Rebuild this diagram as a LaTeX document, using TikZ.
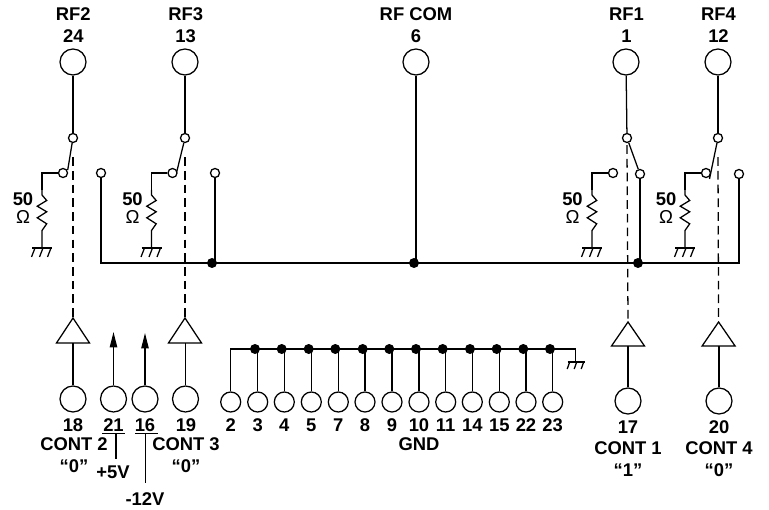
\documentclass[tikz,border=0pt]{standalone}
\usepackage{fontspec}
\setmainfont{Liberation Sans}
\usetikzlibrary{arrows.meta,calc}
\tikzset{
  wire/.style={draw=black,line width=0.95pt},
  ctrl/.style={draw=black,line width=0.95pt,dash pattern=on 6.5pt off 3.8pt},
  port/.style={circle,draw=black,line width=0.95pt,fill=white,inner sep=0pt,minimum size=19.5pt},
  gpin/.style={circle,draw=black,line width=0.95pt,fill=white,inner sep=0pt,minimum size=15pt},
  contact/.style={circle,draw=black,line width=0.95pt,fill=white,inner sep=0pt,minimum size=6.8pt},
  junction/.style={circle,fill=black,inner sep=0pt,minimum size=7.5pt},
  lbl/.style={inner sep=0pt,font=\fontsize{13.8pt}{14pt}\selectfont\bfseries,text height=9.9pt,text depth=0pt},
  ohm/.style={inner sep=0pt,font=\fontsize{14pt}{15pt}\selectfont,text height=9.9pt,text depth=0pt},
  buffer/.style={draw=black,line width=0.95pt,fill=white,line join=miter},
  lift/.style={-{Triangle[length=11.5pt,width=5.5pt]},line width=0.95pt}
}
% resistor and ground hanging from a named coordinate at the resistor top
\newcommand{\resgnd}[1]{%
  \draw[wire] (#1) -- ++(0,5) -- ++(4.7,5.5) -- ++(-9.4,5.7) -- ++(9.4,5.6) -- ++(-9.4,6) -- ++(9.4,6) -- ++(-4.7,6.7) -- ++(0,17.5) coordinate (#1g);
  \draw[wire] ($(#1g)+(-10,0)$) -- ($(#1g)+(10,0)$);
  \foreach \d in {-8,0,8}{\draw[wire] ($(#1g)+(\d+1,0)$) -- ($(#1g)+(\d-2.5,9)$);}
}
\begin{document}
\begin{tikzpicture}[x=0.75pt,y=-0.75pt]
\useasboundingbox (0,0) rectangle (769,510);
% top labels
\foreach \x/\a/\b in {73.3/RF2/24,185.7/RF3/13,416/RF COM/6,626.5/RF1/1,718.5/RF4/12}{
  \node[lbl] at (\x,14) {\a};
  \node[lbl] at (\x,36) {\b};
}
% bus
\coordinate (busL) at (101,263);
\coordinate (busR) at (739,263);
\node[port] (rf2) at (73,62) {};
\node[port] (rf3) at (185,62) {};
\node[port] (com) at (416,62) {};
\node[port] (rf1) at (626,62) {};
\node[port] (rf4) at (718,62) {};
% common contacts
\node[contact] (c2) at (73,138) {};
\node[contact] (c3) at (185,138) {};
\node[contact] (c1) at (627,138) {};
\node[contact] (c4) at (718,138) {};
% terminated contacts
\node[contact] (t2) at (63,173) {};
\node[contact] (t3) at (172.5,173) {};
\node[contact] (t1) at (613,173) {};
\node[contact] (t4) at (706,173) {};
% through contacts
\node[contact] (o2) at (101,173) {};
\node[contact] (o3) at (215,173) {};
\node[contact] (o1) at (640,174) {};
\node[contact] (o4) at (739,174) {};
% junctions
\node[junction] (j3) at (212,263) {};
\node[junction] (jc) at (414,263) {};
\node[junction] (j1) at (638,263) {};
% buffers
\coordinate (a2) at (73,318);
\coordinate (a3) at (185,318);
\coordinate (a1) at (628,322);
\coordinate (a4) at (718.6,322);
% dashed actuators
\draw[ctrl] (c2.south) ++(0,14) -- (a2);
\draw[ctrl] (c3.south) ++(0,14) -- (a3);
\draw[ctrl] (c1.south) ++(0,2) -- (a1);
\draw[ctrl] (c4.south) ++(0,14) -- (a4);
% wires
\draw[wire] (rf2) -- (c2);
\draw[wire] (rf3) -- (c3);
\draw[wire] (rf1) -- (c1);
\draw[wire] (rf4) -- (c4);
\draw[wire] (com) -- (416,263);
\draw[wire] (o2) -- (busL) -- (busR) -- (o4);
\draw[wire] (o3) -- (215,263);
\draw[wire] (o1) -- (640,263);
% switch arms
\draw[wire] (c2) -- (67.7,170);
\draw[wire] (c3) -- (176.7,172);
\draw[wire] (c1) -- (o1);
\draw[wire] (c4) -- (709.5,179);
% resistors
\coordinate (r2) at (42,190);
\coordinate (r3) at (151.5,190);
\coordinate (r1) at (592,190);
\coordinate (r4) at (685,190);
\draw[wire] (t2) -| (r2);
\draw[wire] (t3) -| (r3);
\draw[wire] (t1) -| (r1);
\draw[wire] (t4) -| (r4);
\resgnd{r2}\resgnd{r3}\resgnd{r1}\resgnd{r4}
\foreach \x in {23,132.5,572.5,666}{
  \node[lbl] at (\x,199) {50};
  \node[ohm] at (\x,217) {Ω};
}
% buffer triangles
\draw[buffer] (a2) -- ++(-16.5,25) coordinate (b2) -- ++(33,0) -- cycle;
\draw[buffer] (a3) -- ++(-16.5,25) coordinate (b3) -- ++(33,0) -- cycle;
\draw[buffer] (a1) -- ++(-16.5,24) coordinate (b1) -- ++(33,0) -- cycle;
\draw[buffer] (a4) -- ++(-16.5,24) coordinate (b4) -- ++(33,0) -- cycle;
% control ports
\node[port] (p18) at (73,399) {};
\node[port] (p21) at (113.5,399) {};
\node[port] (p16) at (145,399) {};
\node[port] (p19) at (185.5,399) {};
\node[port] (p17) at (628,401) {};
\node[port] (p20) at (719,401) {};
\draw[wire] (p18) -- (73,343);
\draw[wire] (p19) -- (185.5,343);
\draw[wire] (p17) -- (628,346);
\draw[wire] (p20) -- (719,346);
\coordinate (t21) at (113.5,332);
\coordinate (t16) at (145,333);
\draw[lift] (p21) -- (t21);
\draw[lift] (p16) -- (t16);
% control labels
\node[lbl] at (73,425) {18};
\node[lbl] at (113.5,425) {21};
\node[lbl] at (145,425) {16};
\node[lbl] at (186,425) {19};
\node[lbl] at (74,444) {CONT 2};
\node[lbl] at (186,444) {CONT 3};
\node[lbl] at (74,466) {“0”};
\node[lbl] at (186,466) {“0”};
\coordinate (u21l) at (102,433.5);
\coordinate (u21r) at (125,433.5);
\coordinate (u16l) at (135,433.5);
\coordinate (u16r) at (158,433.5);
\coordinate (u21m) at (116,433.5);
\coordinate (u16m) at (145.5,433.5);
\draw[wire] (u21l) -- (u21r);
\draw[wire] (u16l) -- (u16r);
\draw[wire] (u21m) -- ++(0,25.5);
\draw[wire] (u16m) -- ++(0,49.5);
\node[lbl] at (113,472) {+5V};
\node[lbl] at (145,499) {-12V};
\node[lbl] at (628,427) {17};
\node[lbl] at (628,448) {CONT 1};
\node[lbl] at (628,470) {“1”};
\node[lbl] at (719,427) {20};
\node[lbl] at (719,448) {CONT 4};
\node[lbl] at (719,470) {“0”};
% ground row
\coordinate (gl) at (230.7,349);
\coordinate (gr) at (575.7,349);
\node[gpin] (g2) at (230.7,402) {};
\draw[wire] (g2) -- (gl) -- (gr) -- (575.7,362) coordinate (gg);
\draw[wire] ($(gg)+(-8,0)$) -- ($(gg)+(9,0)$);
\foreach \d in {-6,1,8}{\draw[wire] ($(gg)+(\d,0)$) -- ($(gg)+(\d-2.5,7)$);}
\foreach \px/\dx/\num in {257.7/255/3,284.3/281.7/4,311.3/308.7/5,338.3/335.3/7,365/362.7/8,392/389.3/9,419/416/10,445.7/442.7/11,472.3/470/14,499.3/496.7/15,526/523.3/22,552.7/550/23}{
  \node[gpin] (g\num) at (\px,402) {};
  \node[junction] (k\num) at (\dx,349) {};
  \draw[wire] (g\num) -- (\px,349);
  \node[lbl] at (\px,425) {\num};
}
\node[lbl] at (230.7,425) {2};
\node[lbl] at (419,444) {GND};
\end{tikzpicture}
\end{document}
